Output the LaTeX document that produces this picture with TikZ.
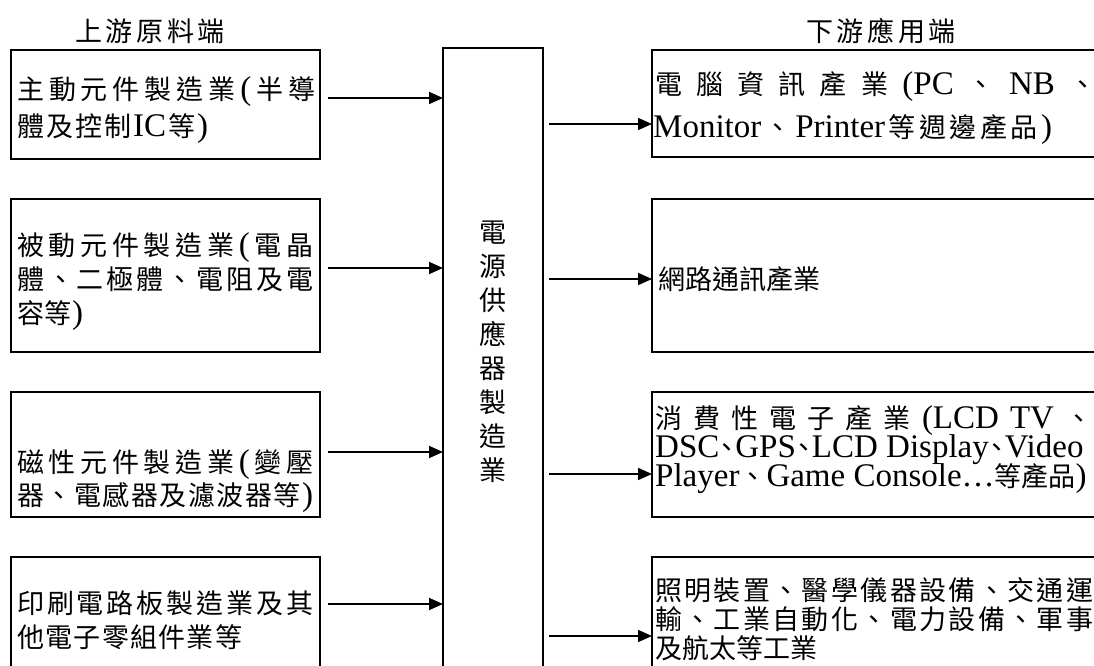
\documentclass[tikz,border=0pt]{standalone}
\usepackage{fontspec}
\setmainfont{Noto Sans CJK TC}
\newfontfamily\latinfont{Liberation Serif}
\usetikzlibrary{arrows.meta}
\newcommand\tm{\fontsize{33pt}{34pt}\latinfont}
\makeatletter
\newcommand\spreadlist[1]{\def\sp@first{1}\@tfor\sp@x:=#1\do{\ifnum\sp@first=1 \def\sp@first{0}\else\hfil\fi{\sp@x}}}
\makeatother
\newcommand\J[2]{\makebox[#1pt][s]{\spreadlist{#2}}}
\begin{document}
\begin{tikzpicture}[x=1pt,y=-1pt,
  font=\fontsize{27pt}{34pt}\selectfont,
  box/.style={draw, line width=2.4pt, rectangle, inner sep=0pt, outer sep=0pt, anchor=north west},
  txt/.style={inner sep=0pt, anchor=base west},
  arr/.style={line width=1.7pt, -{Triangle[length=14pt,width=12pt]}}]
\useasboundingbox (0,0) rectangle (1094,666);
\fill[white] (0,0) rectangle (1094,666);
\clip (0,0) rectangle (1094,666);

% headers
\node[txt, anchor=base] (hl) at (150,42) {\J{150}{上游原料端}};
\node[txt, anchor=base] (hr) at (881,42) {\J{150}{下游應用端}};

% left boxes
\node[box, minimum width=309pt, minimum height=109pt] (lb1) at (11,50) {};
\node[box, minimum width=309pt, minimum height=153pt] (lb2) at (11,199) {};
\node[box, minimum width=309pt, minimum height=125pt] (lb3) at (11,392) {};
\node[box, minimum width=309pt, minimum height=150pt] (lb4) at (11,557) {};

% center box
\node[box, minimum width=100pt, minimum height=660pt] (core) at (443,48) {};
\foreach \ch [count=\i] in {電,源,供,應,器,製,造,業}
  \node[inner sep=0pt, anchor=base] (c\i) at (493,{242+34*(\i-1)}) {\ch};

% right boxes
\node[box, minimum width=458pt, minimum height=107pt] (rb1) at (652,50) {};
\node[box, minimum width=458pt, minimum height=153pt] (rb2) at (652,199) {};
\node[box, minimum width=458pt, minimum height=125pt] (rb3) at (652,392) {};
\node[box, minimum width=458pt, minimum height=150pt] (rb4) at (652,557) {};

% left texts
\node[txt] (l1a) at (17,100) {\J{298}{主動元件製造業{\tm(}半導}};
\node[txt] (l1b) at (17,136) {\J{191}{體及控制{\tm IC}等{\tm)}}};
\node[txt] (l2a) at (17,255) {\J{296}{被動元件製造業{\tm(}電晶}};
\node[txt] (l2b) at (17,289) {\J{296}{體、二極體、電阻及電}};
\node[txt] (l2c) at (17,323) {\J{66}{容等{\tm)}}};
\node[txt] (l3a) at (17,472) {\J{296}{磁性元件製造業{\tm(}變壓}};
\node[txt] (l3b) at (17,505) {\J{296}{器、電感器及濾波器等{\tm)}}};
\node[txt] (l4a) at (17,613) {\J{296}{印刷電路板製造業及其}};
\node[txt] (l4b) at (17,647) {\J{225}{他電子零組件業等}};

% right texts
\node[txt] (r1a) at (655,95) {\J{441}{電腦資訊產業{\tm(PC}、{\tm NB}、}};
\node[txt] (r1b) at (653,138) {\J{399}{{\tm Monitor}、{\tm Printer}等週邊產品{\tm)}}};
\node[txt] (r2a) at (658,289) {網路通訊產業};
\node[txt] (r3a) at (655,428) {\J{437}{消費性電子產業{\tm(LCD}{\tm TV}、}};
\node[txt] (r3b) at (655,457) {{\tm DSC}\makebox[16pt]{、}{\tm GPS}\makebox[16pt]{、}{\tm LCD Display}\makebox[16pt]{、}{\tm Video}};
\node[txt] (r3c) at (655,486) {{\tm Player}、{\tm Game Console…}等產品{\tm)}};
\node[txt] (r4a) at (655,600) {\J{438}{照明裝置、醫學儀器設備、交通運}};
\node[txt] (r4b) at (655,629) {\J{438}{輸、工業自動化、電力設備、軍事}};
\node[txt] (r4c) at (655,658) {及航太等工業};

% arrow levels
\coordinate (ya1) at (0,98);
\coordinate (ya2) at (0,268);
\coordinate (ya3) at (0,452);
\coordinate (ya4) at (0,604);
\coordinate (yb1) at (0,124);
\coordinate (yb2) at (0,279);
\coordinate (yb3) at (0,474);
\coordinate (yb4) at (0,636);

\draw[arr, shorten <=8pt] (lb1.east |- ya1) -- (core.west |- ya1);
\draw[arr, shorten <=8pt] (lb2.east |- ya2) -- (core.west |- ya2);
\draw[arr, shorten <=8pt] (lb3.east |- ya3) -- (core.west |- ya3);
\draw[arr, shorten <=8pt] (lb4.east |- ya4) -- (core.west |- ya4);

\draw[arr, shorten <=6pt] (core.east |- yb1) -- (rb1.west |- yb1);
\draw[arr, shorten <=6pt] (core.east |- yb2) -- (rb2.west |- yb2);
\draw[arr, shorten <=6pt] (core.east |- yb3) -- (rb3.west |- yb3);
\draw[arr, shorten <=6pt] (core.east |- yb4) -- (rb4.west |- yb4);
\end{tikzpicture}
\end{document}
